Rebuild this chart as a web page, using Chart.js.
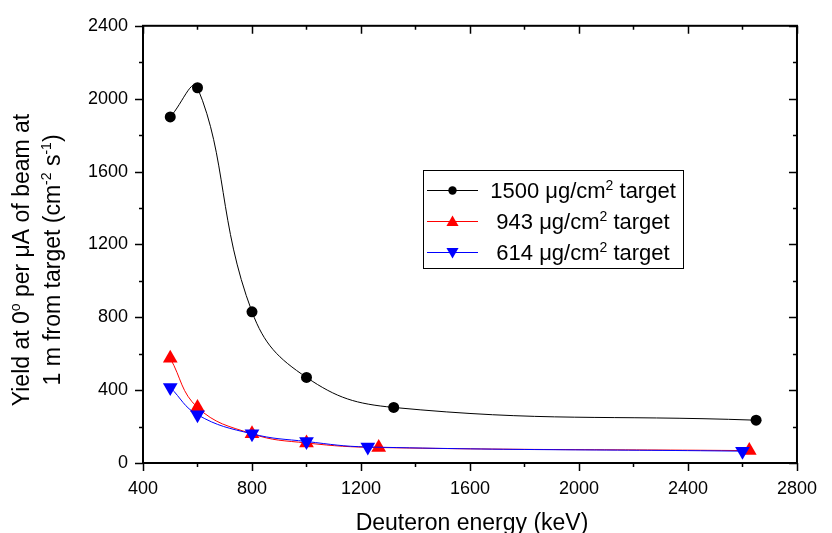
<!DOCTYPE html>
<html>
<head>
<meta charset="utf-8">
<script src="https://cdn.jsdelivr.net/npm/chart.js@4.4.1/dist/chart.umd.min.js"></script>
<style>
  html, body { margin: 0; padding: 0; background: #ffffff; }
  #wrap { width: 832px; height: 533px; }
</style>
</head>
<body>
<div id="wrap"><canvas id="chart" width="832" height="533"></canvas></div>
<script>
// Deuteron energy (keV) and neutron yield for each target thickness
const energy1500 = [500, 600, 800, 1000, 1320, 2650];
const yield1500  = [1900, 2060, 830, 470, 305, 235];

const energy943  = [500, 600, 800, 1000, 1265, 2625];
const yield943   = [575, 305, 160, 110, 85, 68];

const energy614  = [500, 600, 800, 1000, 1225, 2600];
const yield614   = [415, 265, 160, 118, 88, 65];

const targetThickness = ['1500', '943', '614'];
const seriesColors = ['#000000', '#ff0000', '#0000ff'];
const seriesMarkers = ['circle', 'triangle', 'triangleDown'];

const xRange = [400, 2800];
const yRange = [0, 2400];
const majorStep = 400;
const minorStep = 200;

const xTitle = 'Deuteron energy (keV)';
const yTitleLines = [
  [{ t: 'Yield at 0' }, { t: 'o', sup: true }, { t: ' per \u03bcA of beam at' }],
  [{ t: '1 m from target (cm' }, { t: '-2', sup: true }, { t: ' s' }, { t: '-1', sup: true }, { t: ')' }]
];

const FONT = '"Liberation Sans", Arial, Helvetica, sans-serif';

function toPoints(xs, ys) {
  return xs.map((x, i) => ({ x: x, y: ys[i] }));
}

// Text made of runs, some of them raised as superscripts
function richWidth(ctx, runs, size) {
  let w = 0;
  runs.forEach(r => {
    ctx.font = (r.sup ? Math.round(size * 0.62) : size) + 'px ' + FONT;
    w += ctx.measureText(r.t).width;
  });
  return w;
}
function drawRich(ctx, runs, x, y, size, align) {
  const w = richWidth(ctx, runs, size);
  let cx = align === 'center' ? x - w / 2 : x;
  ctx.textBaseline = 'alphabetic';
  ctx.textAlign = 'left';
  runs.forEach(r => {
    const s = r.sup ? Math.round(size * 0.62) : size;
    ctx.font = s + 'px ' + FONT;
    ctx.fillText(r.t, cx, r.sup ? y - size * 0.38 : y);
    cx += ctx.measureText(r.t).width;
  });
}

function drawMarker(ctx, kind, x, y, r, color) {
  ctx.fillStyle = color;
  ctx.beginPath();
  if (kind === 'circle') {
    ctx.arc(x, y, r, 0, Math.PI * 2);
  } else {
    const dir = kind === 'triangle' ? 1 : -1;
    ctx.moveTo(x, y - dir * r);
    ctx.lineTo(x - r * 0.866, y + dir * r * 0.5);
    ctx.lineTo(x + r * 0.866, y + dir * r * 0.5);
    ctx.closePath();
  }
  ctx.fill();
}

// Frame around the plot with major/minor tick marks on all four sides
const framePlugin = {
  id: 'frame',
  afterDatasetsDraw(chart) {
    const { ctx, chartArea: a, scales } = chart;
    ctx.save();
    ctx.strokeStyle = '#000';
    ctx.lineWidth = 2;
    ctx.strokeRect(a.left, a.top, a.right - a.left, a.bottom - a.top);
    ctx.lineWidth = 1.5;
    ctx.beginPath();
    for (let v = xRange[0]; v <= xRange[1]; v += minorStep) {
      const px = Math.round(scales.x.getPixelForValue(v)) + 0.5;
      const len = v % majorStep === 0 ? 8 : 4;
      ctx.moveTo(px, a.bottom); ctx.lineTo(px, a.bottom + len);
      ctx.moveTo(px, a.top); ctx.lineTo(px, a.top + len);
    }
    for (let v = yRange[0]; v <= yRange[1]; v += minorStep) {
      const py = Math.round(scales.y.getPixelForValue(v)) + 0.5;
      const len = v % majorStep === 0 ? 8 : 4;
      ctx.moveTo(a.left, py); ctx.lineTo(a.left - len, py);
      ctx.moveTo(a.right, py); ctx.lineTo(a.right - len, py);
    }
    ctx.stroke();
    ctx.restore();
  }
};

// Axis titles with superscripts
const titlePlugin = {
  id: 'titles',
  afterDraw(chart) {
    const { ctx, chartArea: a } = chart;
    ctx.save();
    ctx.fillStyle = '#000';
    ctx.font = '23px ' + FONT;
    ctx.textAlign = 'center';
    ctx.textBaseline = 'alphabetic';
    ctx.fillText(xTitle, (a.left + a.right) / 2 + 2, 530);
    const baselines = [29, 60];
    yTitleLines.forEach((runs, i) => {
      ctx.save();
      ctx.translate(baselines[i], 260);
      ctx.rotate(-Math.PI / 2);
      drawRich(ctx, runs, 0, 0, 23, 'center');
      ctx.restore();
    });
    ctx.restore();
  }
};

// Boxed legend with line-and-marker samples
const legendPlugin = {
  id: 'boxLegend',
  afterDraw(chart) {
    const { ctx } = chart;
    const box = { left: 423.5, top: 170.5, right: 683.5, bottom: 268.5 };
    const rows = [190.5, 221.5, 252.5];
    ctx.save();
    ctx.fillStyle = '#fff';
    ctx.fillRect(box.left, box.top, box.right - box.left, box.bottom - box.top);
    ctx.strokeStyle = '#000';
    ctx.lineWidth = 1;
    ctx.strokeRect(box.left, box.top, box.right - box.left, box.bottom - box.top);
    targetThickness.forEach((name, i) => {
      const y = rows[i];
      ctx.strokeStyle = seriesColors[i];
      ctx.lineWidth = 1;
      ctx.beginPath();
      ctx.moveTo(427, y); ctx.lineTo(478, y);
      ctx.stroke();
      drawMarker(ctx, seriesMarkers[i], 452.5, y + (i === 1 ? 1 : i === 2 ? -1 : 0), i === 0 ? 4.2 : 7, seriesColors[i]);
      ctx.fillStyle = '#000';
      drawRich(ctx, [{ t: name + ' \u03bcg/cm' }, { t: '2', sup: true }, { t: ' target' }], 583, y + 7.5, 22, 'center');
    });
    ctx.restore();
  }
};

function series(label, xs, ys, i, order) {
  return {
    label: label,
    data: toPoints(xs, ys),
    showLine: true,
    borderColor: seriesColors[i],
    backgroundColor: seriesColors[i],
    borderWidth: 1,
    tension: 0.42,
    pointStyle: i === 0 ? 'circle' : 'triangle',
    rotation: i === 2 ? 180 : 0,
    pointRadius: i === 0 ? 5.5 : 8.5,
    pointBorderWidth: 0,
    order: order
  };
}

const plainTick = v => String(v);

new Chart(document.getElementById('chart'), {
  type: 'scatter',
  data: {
    datasets: [
      series(targetThickness[0], energy1500, yield1500, 0, 2),
      series(targetThickness[1], energy943, yield943, 1, 1),
      series(targetThickness[2], energy614, yield614, 2, 0)
    ]
  },
  options: {
    responsive: false,
    animation: false,
    devicePixelRatio: 1,
    layout: { padding: { top: 21, right: 24, left: 0, bottom: 0 } },
    plugins: { legend: { display: false }, tooltip: { enabled: false } },
    scales: {
      x: {
        type: 'linear',
        min: xRange[0], max: xRange[1],
        afterFit(s) { s.height = 70; },
        grid: { display: false, drawTicks: false },
        border: { display: false },
        ticks: {
          stepSize: majorStep, autoSkip: false, maxRotation: 0,
          color: '#000', padding: 15, callback: plainTick,
          font: { size: 18, family: FONT }
        }
      },
      y: {
        type: 'linear',
        min: yRange[0], max: yRange[1],
        afterFit(s) { s.width = 143; },
        grid: { display: false, drawTicks: false },
        border: { display: false },
        ticks: {
          stepSize: majorStep, autoSkip: false,
          color: '#000', padding: 15, callback: plainTick,
          font: { size: 18, family: FONT }
        }
      }
    }
  },
  plugins: [framePlugin, titlePlugin, legendPlugin]
});
</script>
</body>
</html>
